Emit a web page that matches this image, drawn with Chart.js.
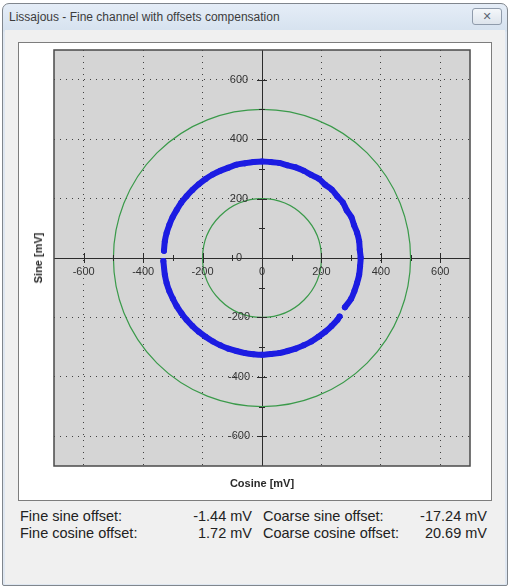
<!DOCTYPE html>
<html>
<head>
<meta charset="utf-8">
<script src="https://cdn.jsdelivr.net/npm/chart.js@4/dist/chart.umd.min.js"></script>
<style>
  html, body { margin: 0; padding: 0; }
  body { width: 511px; height: 588px; position: relative; overflow: hidden; background: #ffffff; font-family: "Liberation Sans", Arial, sans-serif; }
  .abs { position: absolute; }
  #win { left: 2px; top: 3px; width: 504px; height: 581px; border: 1px solid #80868d; border-radius: 7px 7px 2px 2px;
         background: linear-gradient(to bottom, #e5edf7 0px, #d6e2ef 27px, #dfe7f1 28px, #dfe7f1 100%); }
  #client { left: 5px; top: 30px; width: 500px; height: 554px; background: #f0f0f0; }
  #title { left: 9px; top: 10px; font-size: 12px; line-height: 14px; color: #3c3c3c; white-space: nowrap; }
  #closeBtn { left: 472px; top: 8px; width: 28px; height: 15px; border: 1px solid #8f9bab; border-radius: 3px;
              background: linear-gradient(to bottom, #f4f7fa, #dde4ec); color: #5d6675; font: bold 11px "DejaVu Sans", sans-serif;
              line-height: 15px; text-align: center; }
  #panel { left: 18px; top: 42px; width: 472px; height: 457px; border: 1px solid #7d7d7d; background: #ffffff; }
  #chartBox { left: 19px; top: 43px; width: 472px; height: 457px; }
  .axTitle { font-weight: bold; font-size: 11px; color: #2a2a2a; white-space: nowrap; transform-origin: center center; }
  .info { font-size: 14.5px; line-height: 17px; color: #222; white-space: nowrap; }
</style>
</head>
<body>
<div id="win" class="abs"></div>
<div id="client" class="abs"></div>
<div id="title" class="abs">Lissajous - Fine channel with offsets compensation</div>
<div id="closeBtn" class="abs">✕</div>
<div id="panel" class="abs"></div>
<div id="chartBox" class="abs"><canvas id="c" width="472" height="457"></canvas></div>
<div class="abs axTitle" style="left:38px; top:258px; transform: translate(-50%,-50%) rotate(-90deg);">Sine [mV]</div>
<div class="abs axTitle" style="left:262px; top:483px; transform: translate(-50%,-50%);">Cosine [mV]</div>
<div id="infoBox"></div>
<script>
// ---- data ----
const cosine = [279, 300, 311, 320, 327, 330, 332, 329, 327, 320,
                310, 301, 285, 272, 253, 235, 212, 191, 165, 140,
                113, 85, 58, 29, 0, -29, -57, -86, -113, -140,
                -166, -190, -213, -234, -254, -272, -287, -301, -312, -321,
                -327, -330, null, -332, -327, -321, -312, -300, -287, -271,
                -254, -234, -213, -190, -165, -140, -113, -86, -57, -29,
                0, 29, 58, 86, 113, 140, 166, 190, 213, 234,
                254, 261];
const sine   = [-166, -137, -111, -84, -56, -28, 1, 28, 56, 85,
                110, 137, 161, 187, 208, 230, 247, 267, 280, 294,
                305, 312, 320, 323, 325, 323, 319, 314, 304, 294,
                281, 266, 248, 229, 208, 186, 162, 137, 111, 84,
                56, 24, null, -10, -56, -84, -111, -137, -162, -186,
                -208, -229, -248, -265, -281, -294, -305, -313, -320, -324,
                -326, -323, -320, -313, -305, -294, -281, -265, -248, -229,
                -208, -197];
const refRadii   = [200, 500];
const majorTicks = [-600, -400, -200, 0, 200, 400, 600];
const minorTicks = [-500, -300, -100, 100, 300, 500];
const tickLabels = ['-600', '-400', '-200', '0', '200', '400', '600'];
const axisMin = -700, axisMax = 700;
const offsetNames  = ['Fine sine offset:', 'Fine cosine offset:', 'Coarse sine offset:', 'Coarse cosine offset:'];
const offsetValues = ['-1.44 mV', '1.72 mV', '-17.24 mV', '20.69 mV'];

// ---- info text below the chart ----
(function () {
  const box = document.getElementById('infoBox');
  const rows = [516, 533];
  const add = (txt, css) => { const d = document.createElement('div'); d.className = 'abs info'; d.textContent = txt; Object.assign(d.style, css); box.appendChild(d); };
  for (let r = 0; r < 2; r++) {
    const top = (rows[r] - 8.5) + 'px';
    add(offsetNames[r], {left: '20px', top});
    add(offsetValues[r], {right: (511 - 252) + 'px', top, textAlign: 'right'});
    add(offsetNames[r + 2], {left: '263px', top});
    add(offsetValues[r + 2], {right: (511 - 487) + 'px', top, textAlign: 'right'});
  }
})();

const BLUE = '#1c1ce2';
const points = cosine.map((x, i) => ({x: x, y: sine[i]}));

const decor = {
  id: 'decor',
  beforeDraw(chart) {
    const {ctx, chartArea: a} = chart;
    ctx.save();
    ctx.fillStyle = '#d5d5d5';
    ctx.fillRect(a.left, a.top, a.right - a.left, a.bottom - a.top);
    ctx.restore();
  },
  beforeDatasetsDraw(chart) {
    const {ctx, chartArea: a, scales: {x, y}} = chart;
    const cx = x.getPixelForValue(0), cy = y.getPixelForValue(0);
    ctx.save();
    ctx.beginPath(); ctx.rect(a.left, a.top, a.right - a.left, a.bottom - a.top); ctx.clip();
    ctx.strokeStyle = '#3a9a4a';
    ctx.lineWidth = 1.2;
    refRadii.forEach(r => {
      const rx = x.getPixelForValue(r) - cx, ry = cy - y.getPixelForValue(r);
      ctx.beginPath(); ctx.ellipse(cx, cy, rx, ry, 0, 0, Math.PI * 2); ctx.stroke();
    });
    ctx.strokeStyle = '#2b2b2b';
    ctx.lineWidth = 1;
    const mark = (v, len) => {
      if (v === 0) return;
      const px = Math.round(x.getPixelForValue(v)) + 0.5;
      ctx.beginPath(); ctx.moveTo(px, cy - len); ctx.lineTo(px, cy + len); ctx.stroke();
      const py = Math.round(y.getPixelForValue(v)) + 0.5;
      ctx.beginPath(); ctx.moveTo(cx - len, py); ctx.lineTo(cx + len, py); ctx.stroke();
    };
    majorTicks.forEach(v => mark(v, 5));
    minorTicks.forEach(v => mark(v, 3));
    ctx.restore();
  },
  afterDatasetsDraw(chart) {
    const {ctx, chartArea: a, scales: {x, y}} = chart;
    const cx = x.getPixelForValue(0), cy = y.getPixelForValue(0);
    ctx.save();
    ctx.font = '11px "Liberation Sans", Arial, sans-serif';
    ctx.fillStyle = '#333333';
    ctx.textAlign = 'center';
    ctx.textBaseline = 'middle';
    majorTicks.forEach((v, i) => {
      ctx.fillText(tickLabels[i], x.getPixelForValue(v), cy + 14);
      ctx.fillText(tickLabels[i], cx - 23, y.getPixelForValue(v));
    });
    ctx.strokeStyle = '#4a4a4a';
    ctx.lineWidth = 1.5;
    ctx.strokeRect(a.left, a.top, a.right - a.left, a.bottom - a.top);
    ctx.restore();
  }
};

const gridColor = c => (c.tick && c.tick.value === 0) ? '#2b2b2b' : '#404040';
const gridDash  = c => (c.tick && c.tick.value === 0) ? [] : [1, 5];

function axisCfg(isX) {
  return {
    type: 'linear', min: axisMin, max: axisMax,
    ticks: {display: false},
    afterBuildTicks: s => { s.ticks = majorTicks.map(v => ({value: v})); },
    afterFit: s => { if (isX) s.height = 0; else s.width = 0; },
    grid: {color: gridColor, lineWidth: 1, drawTicks: false},
    border: {display: false, dash: gridDash}
  };
}

new Chart(document.getElementById('c'), {
  type: 'scatter',
  data: {
    datasets: [{
      label: 'Lissajous',
      data: points,
      showLine: true,
      spanGaps: false,
      tension: 0.3,
      borderColor: BLUE,
      borderWidth: 6,
      borderCapStyle: 'round',
      borderJoinStyle: 'round',
      pointRadius: 3,
      pointBackgroundColor: BLUE,
      pointBorderWidth: 0
    }]
  },
  options: {
    responsive: false,
    animation: false,
    devicePixelRatio: 1,
    layout: {padding: {left: 35, top: 7, right: 21, bottom: 34}},
    plugins: {legend: {display: false}, tooltip: {enabled: false}},
    scales: {x: axisCfg(true), y: axisCfg(false)}
  },
  plugins: [decor]
});
</script>
</body>
</html>
